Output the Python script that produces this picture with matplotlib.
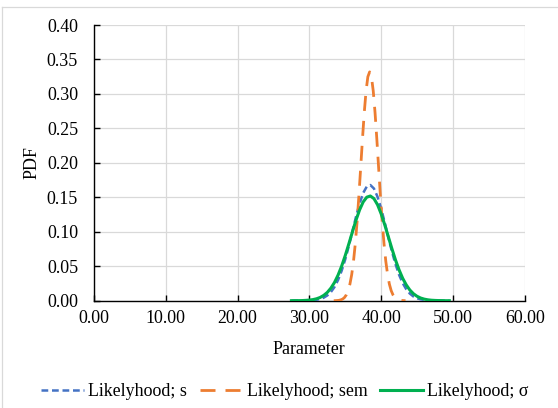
import matplotlib.pyplot as plt
from matplotlib.lines import Line2D
from matplotlib.ticker import FormatStrFormatter

plt.rcParams['font.family'] = ['Liberation Serif', 'DejaVu Serif']
FS = 12.9

# parameter grid for the wide curves (s and sigma)
x_wide = [27.5, 28.0, 28.5, 29.0, 29.5, 30.0, 30.5, 31.0, 31.5, 32.0,
          32.5, 33.0, 33.5, 34.0, 34.5, 35.0, 35.5, 36.0, 36.5, 37.0,
          37.5, 38.0, 38.5, 39.0, 39.5, 40.0, 40.5, 41.0, 41.5, 42.0,
          42.5, 43.0, 43.5, 44.0, 44.5, 45.0, 45.5, 46.0, 46.5, 47.0,
          47.5, 48.0, 48.5, 49.0, 49.5]

pdf_s = [0.0000, 0.0000, 0.0000, 0.0001, 0.0001, 0.0003, 0.0006, 0.0013, 0.0024, 0.0044,
         0.0076, 0.0125, 0.0198, 0.0300, 0.0434, 0.0600, 0.0794, 0.1006, 0.1218, 0.1411,
         0.1563, 0.1656, 0.1678, 0.1627, 0.1508, 0.1338, 0.1134, 0.0920, 0.0714, 0.0530,
         0.0376, 0.0255, 0.0166, 0.0103, 0.0061, 0.0035, 0.0019, 0.0010, 0.0005, 0.0002,
         0.0001, 0.0000, 0.0000, 0.0000, 0.0000]

pdf_sigma = [0.0000, 0.0001, 0.0001, 0.0002, 0.0005, 0.0009, 0.0016, 0.0028, 0.0047, 0.0077,
             0.0120, 0.0182, 0.0264, 0.0371, 0.0502, 0.0655, 0.0824, 0.0999, 0.1169, 0.1318,
             0.1433, 0.1502, 0.1519, 0.1481, 0.1392, 0.1261, 0.1102, 0.0929, 0.0755, 0.0591,
             0.0447, 0.0325, 0.0229, 0.0155, 0.0101, 0.0064, 0.0039, 0.0023, 0.0013, 0.0007,
             0.0004, 0.0002, 0.0001, 0.0000, 0.0000]

# narrower grid for the sem curve
x_sem = [33.40, 33.65, 33.90, 34.15, 34.40, 34.65, 34.90, 35.15, 35.40, 35.65,
         35.90, 36.15, 36.40, 36.65, 36.90, 37.15, 37.40, 37.65, 37.90, 38.15,
         38.40, 38.65, 38.90, 39.15, 39.40, 39.65, 39.90, 40.15, 40.40, 40.65,
         40.90, 41.15, 41.40, 41.65, 41.90, 42.15, 42.40, 42.65, 42.90, 43.15,
         43.40]

pdf_sem = [0.0000, 0.0001, 0.0003, 0.0006, 0.0013, 0.0025, 0.0047, 0.0085, 0.0146, 0.0240,
           0.0379, 0.0572, 0.0828, 0.1146, 0.1520, 0.1930, 0.2346, 0.2731, 0.3044, 0.3249,
           0.3320, 0.3249, 0.3044, 0.2731, 0.2346, 0.1930, 0.1520, 0.1146, 0.0828, 0.0572,
           0.0379, 0.0240, 0.0146, 0.0085, 0.0047, 0.0025, 0.0013, 0.0006, 0.0003, 0.0001,
           0.0000]

labels = ['Likelyhood; s', 'Likelyhood; sem', 'Likelyhood; \u03c3']
x_ticks = [0, 10, 20, 30, 40, 50, 60]
y_ticks = [0.00, 0.05, 0.10, 0.15, 0.20, 0.25, 0.30, 0.35, 0.40]

W, H = 558, 408
fig = plt.figure(figsize=(W / 100, H / 100), dpi=100)
ax = fig.add_axes([94 / W, 1 - 300.7 / H, 430.7 / W, 275.7 / H])

# chart area border (top and left only visible)
fig.add_artist(Line2D([2 / W, 1], [1 - 7 / H, 1 - 7 / H], transform=fig.transFigure,
                      color='#d9d9d9', lw=0.9))
fig.add_artist(Line2D([2 / W, 2 / W], [0, 1 - 7 / H], transform=fig.transFigure,
                      color='#d9d9d9', lw=0.9))

blue = ax.plot(x_wide, pdf_s, color='#4472C4', lw=1.8, dashes=(2.7, 1.5))
orange = ax.plot(x_sem, pdf_sem, color='#ED7D31', lw=2.0, dashes=(5.4, 3.6))
green = ax.plot(x_wide, pdf_sigma, color='#00B050', lw=2.2)

ax.set_xlim(0, 60)
ax.set_ylim(0, 0.40)
ax.set_xticks(x_ticks)
ax.set_yticks(y_ticks)
ax.xaxis.set_major_formatter(FormatStrFormatter('%.2f'))
ax.yaxis.set_major_formatter(FormatStrFormatter('%.2f'))
ax.grid(True, color='#d9d9d9', lw=0.9)
ax.set_axisbelow(True)
for side in ['top', 'right']:
    ax.spines[side].set_visible(False)
for side in ['left', 'bottom']:
    ax.spines[side].set_linewidth(1.0)
    ax.spines[side].set_zorder(1.5)
ax.tick_params(axis='x', direction='in', length=4, width=1.0, pad=7, labelsize=FS)
ax.tick_params(axis='y', direction='in', length=4, width=1.0, pad=11.5, labelsize=FS)

fig.text(32 / W, 1 - 163 / H, 'PDF', rotation=90, ha='center', va='center', fontsize=FS)
fig.text(309 / W, 1 - 349 / H, 'Parameter', ha='center', va='center', fontsize=FS)

fig.legend([blue[0], orange[0], green[0]], labels, loc='center',
           bbox_to_anchor=(285 / W, 1 - 392 / H), ncol=3, frameon=False,
           fontsize=FS, handlelength=2.4, handletextpad=0.23, columnspacing=0.7,
           borderpad=0, borderaxespad=0)

fig.savefig('out.png', dpi=100)
